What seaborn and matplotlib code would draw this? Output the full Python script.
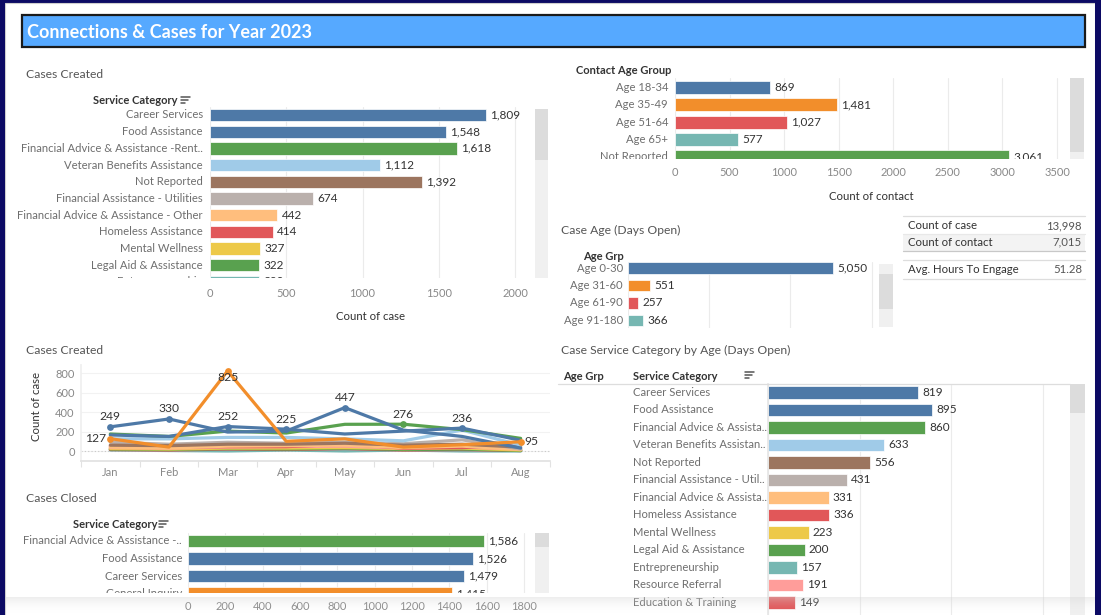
import numpy as np
import pandas as pd
import seaborn as sns
import matplotlib.pyplot as plt
from matplotlib.patches import Rectangle
from matplotlib.lines import Line2D
from matplotlib.transforms import Bbox, TransformedBbox, blended_transform_factory

W, H = 1101, 615

# tableau-ish colours
BLUE = "#4e79a7"
ORANGE = "#f28e2b"
RED = "#e15759"
TEAL = "#76b7b2"
GREEN = "#59a14f"
YELLOW = "#edc948"
LBLUE = "#a0cbe8"
BROWN = "#9c755f"
GREY = "#bab0ac"
LORANGE = "#ffbe7d"
PINK = "#ff9d9a"

# ---- data ----
created_cats = ["Career Services", "Food Assistance", "Financial Advice & Assistance -Rent..",
                "Veteran Benefits Assistance", "Not Reported", "Financial Assistance - Utilities",
                "Financial Advice & Assistance - Other", "Homeless Assistance", "Mental Wellness",
                "Legal Aid & Assistance", "Entrepreneurship"]
created_vals = [1809, 1548, 1618, 1112, 1392, 674, 442, 414, 327, 322, 320]
created_colors = [BLUE, BLUE, GREEN, LBLUE, BROWN, GREY, LORANGE, RED, YELLOW, GREEN, TEAL]

contact_groups = ["Age 18-34", "Age 35-49", "Age 51-64", "Age 65+", "Not Reported"]
contact_vals = [869, 1481, 1027, 577, 3061]
contact_colors = [BLUE, ORANGE, RED, TEAL, GREEN]

case_age_groups = ["Age 0-30", "Age 31-60", "Age 61-90", "Age 91-180"]
case_age_vals = [5050, 551, 257, 366]
case_age_colors = [BLUE, ORANGE, RED, TEAL]

kpi_names = ["Count of case", "Count of contact", "Avg. Hours To Engage"]
kpi_vals = ["13,998", "7,015", "51.28"]

months = ["Jan", "Feb", "Mar", "Apr", "May", "Jun", "Jul", "Aug"]
trend_career = [249, 330, 195, 205, 447, 215, 150, 30]
trend_food = [165, 150, 252, 225, 175, 205, 236, 110]
trend_fin_rent = [175, 150, 205, 185, 275, 276, 220, 130]
trend_veteran = [125, 125, 140, 140, 125, 105, 215, 60]
trend_general = [127, 40, 825, 100, 125, 40, 65, 95]
trend_not_reported = [60, 55, 70, 70, 80, 60, 70, 40]
trend_fin_util = [90, 70, 90, 80, 90, 75, 115, 20]
trend_fin_other = [40, 30, 50, 55, 60, 35, 50, 15]
trend_homeless = [50, 40, 45, 45, 70, 30, 35, 60]
trend_referral = [35, 30, 40, 45, 50, 30, 40, 20]
trend_mental = [25, 20, 30, 30, 35, 25, 30, 10]
trend_legal = [20, 15, 25, 20, 30, 15, 20, 5]
trend_education = [15, 10, 20, 15, 25, 10, 15, 5]
trend_entre = [10, 5, 0, 10, 0, 10, 0, 0]

closed_cats = ["Financial Advice & Assistance -..", "Food Assistance", "Career Services", "General Inquiry"]
closed_vals = [1586, 1526, 1479, 1415]
closed_colors = [GREEN, BLUE, BLUE, ORANGE]

byage_cats = ["Career Services", "Food Assistance", "Financial Advice & Assistance - Rent",
              "Veteran Benefits Assistance", "Not Reported", "Financial Assistance - Utilities",
              "Financial Advice & Assistance - Other", "Homeless Assistance", "Mental Wellness",
              "Legal Aid & Assistance", "Entrepreneurship", "Resource Referral", "Education & Training"]
byage_labels = ["Career Services", "Food Assistance", "Financial Advice & Assista..",
                "Veteran Benefits Assistan..", "Not Reported", "Financial Assistance - Util..",
                "Financial Advice & Assista..", "Homeless Assistance", "Mental Wellness",
                "Legal Aid & Assistance", "Entrepreneurship", "Resource Referral", "Education & Training"]
byage_vals = [819, 895, 860, 633, 556, 431, 331, 336, 223, 200, 157, 191, 149]
byage_colors = [BLUE, BLUE, GREEN, LBLUE, BROWN, GREY, LORANGE, RED, YELLOW, GREEN, TEAL, PINK, RED]

sns.set_theme(style="white")
plt.rcParams["font.family"] = ["Lato", "DejaVu Sans"]

fig = plt.figure(figsize=(W / 100, H / 100), dpi=100, facecolor="#0c0a64")


def add_ax(l, t, r, b):
    ax = fig.add_axes([l / W, 1 - b / H, (r - l) / W, (b - t) / H])
    ax.set_facecolor("white")
    for s in ax.spines.values():
        s.set_visible(False)
    return ax


def ftext(x, y, s, **kw):
    kw.setdefault("va", "center")
    return fig.text(x / W, 1 - y / H, s, **kw)


def frect(l, t, r, b, **kw):
    fig.add_artist(Rectangle((l / W, 1 - b / H), (r - l) / W, (b - t) / H,
                             transform=fig.transFigure, **kw))


def fline(x0, y0, x1, y1, **kw):
    fig.add_artist(Line2D([x0 / W, x1 / W], [1 - y0 / H, 1 - y1 / H],
                          transform=fig.transFigure, **kw))


def sort_icon(x, y):
    for i, ln in enumerate([9, 7, 4]):
        fline(x, y + i * 3, x + ln, y + i * 3, color="#555555", lw=1.1)


def scrollbar(l, t, r, b, thumb_t, thumb_b):
    frect(l, t, r, b, color="#f0f0f0", lw=0)
    frect(l, thumb_t, r, thumb_b, color="#dcdcdc", lw=0)


def bar_panel(box, cats, vals, colors, xmax, first_px, step_px, width, labels,
              label_px, label_ha="right", xticks=None, tick_pad=6):
    l, t, r, b = box
    ax = add_ax(l, t, r, b)
    df = pd.DataFrame({"cat": cats, "val": vals})
    sns.barplot(data=df, x="val", y="cat", hue="cat", order=cats, hue_order=cats,
                palette=dict(zip(cats, colors)), width=width, legend=False, ax=ax,
                orient="h", saturation=1, edgecolor="white", linewidth=0.5)
    ax.set_xlim(0, xmax)
    ax.set_ylim((b - first_px) / step_px, (t - first_px) / step_px)
    ax.grid(axis="x", color="#ebebeb", lw=0.8)
    ax.set_axisbelow(True)
    ax.set_xlabel("")
    ax.set_ylabel("")
    ax.tick_params(left=False, labelleft=False, bottom=False, length=0)
    if xticks is None:
        ax.tick_params(labelbottom=False)
    else:
        ax.set_xticks(xticks)
        ax.tick_params(labelsize=8, labelcolor="#888888", pad=tick_pad)
    clip = TransformedBbox(Bbox.from_extents(0, 1 - b / H, 1, 1 - t / H), fig.transFigure)
    for cont in ax.containers:
        for txt in ax.bar_label(cont, fmt="{:,.0f}", padding=3, fontsize=8.5, color="#333333"):
            txt.set_annotation_clip(False)
            txt.set_clip_on(True)
            txt.set_clip_box(clip)
    trans = blended_transform_factory(fig.transFigure, ax.transData)
    for i, lab in enumerate(labels):
        txt = ax.text(label_px / W, i, lab, transform=trans, ha=label_ha, va="center",
                      fontsize=8.1, color="#6e6e6e", clip_on=True)
        txt.set_clip_path(None)
        txt.set_clip_box(clip)
    return ax


# ---- frame ----
frect(5, 3, 1095, 640, facecolor="white", edgecolor="#cfcfcf", lw=0.8, zorder=-10)
frect(22, 15, 1085, 47, facecolor="#56a9ff", edgecolor="#1a1a1a", lw=1.6)
ftext(27, 32, "Connections & Cases for Year 2023", color="white", fontsize=13, fontweight="bold")

# ---- Cases Created (bars) ----
ftext(26, 75, "Cases Created", fontsize=8.7, color="#555555")
ftext(93, 101, "Service Category", fontsize=8, color="#333333", fontweight="bold")
sort_icon(181, 97)
bar_panel((210, 107, 530, 278), created_cats, created_vals, created_colors, 2098,
          115, 16.67, 0.74, created_cats, 203, xticks=[0, 500, 1000, 1500, 2000], tick_pad=7)
ftext(371, 316, "Count of case", ha="center", fontsize=8.2, color="#333333")
scrollbar(535, 109, 548, 278, 109, 160)

# ---- Contact Age Group ----
ftext(576, 71, "Contact Age Group", fontsize=8, color="#333333", fontweight="bold")
bar_panel((675, 78, 1065, 159), contact_groups, contact_vals, contact_colors, 3573,
          87.3, 17.4, 0.75, contact_groups, 668,
          xticks=[0, 500, 1000, 1500, 2000, 2500, 3000, 3500], tick_pad=6)
ftext(871, 197, "Count of contact", ha="center", fontsize=8.2, color="#333333")
scrollbar(1070, 78, 1084, 159, 78, 152)

# ---- Case Age (Days Open) ----
ftext(561, 230, "Case Age (Days Open)", fontsize=8.7, color="#555555")
ftext(583, 256, "Age Grp", fontsize=8, color="#333333", fontweight="bold")
bar_panel((628, 262, 876, 328), case_age_groups, case_age_vals, case_age_colors, 6108,
          268, 17.5, 0.68, case_age_groups, 623)
scrollbar(879, 264, 893, 327, 274, 309)

# ---- KPI table ----
frect(903, 234, 1085, 251, color="#f3f3f3", lw=0)
for yy, col in [(216, "#dddddd"), (234, "#e8e8e8"), (251, "#c8c8c8"), (260, "#dddddd"), (279, "#dddddd")]:
    fline(903, yy, 1085, yy, color=col, lw=0.9)
for name, val, yy in zip(kpi_names, kpi_vals, [225.5, 242, 270]):
    ftext(908, yy, name, fontsize=8.2, color="#333333")
    ftext(1082, yy, val, fontsize=8.2, color="#555555", ha="right")

# ---- Cases Created trend ----
ftext(26, 350, "Cases Created", fontsize=8.7, color="#555555")
trend_names = ["Entrepreneurship", "Education & Training", "Legal Aid & Assistance", "Mental Wellness",
               "Resource Referral", "Homeless Assistance", "Financial Advice & Assistance - Other",
               "Financial Assistance - Utilities", "Not Reported", "Veteran Benefits Assistance",
               "Financial Advice & Assistance - Rent", "Food Assistance", "Career Services", "General Inquiry"]
trend_series = [trend_entre, trend_education, trend_legal, trend_mental, trend_referral, trend_homeless,
                trend_fin_other, trend_fin_util, trend_not_reported, trend_veteran, trend_fin_rent,
                trend_food, trend_career, trend_general]
trend_colors = [TEAL, RED, GREEN, YELLOW, PINK, RED, LORANGE, GREY, BROWN, LBLUE, GREEN, BLUE, BLUE, ORANGE]
rows = []
for name, vals in zip(trend_names, trend_series):
    for m, v in enumerate(vals):
        rows.append({"series": name, "month": m, "cases": v})
trend_df = pd.DataFrame(rows)

axl = add_ax(81, 365, 550, 461)
axl.axhline(0, color="#c8c8c8", lw=0.8, ls=(0, (1, 2)))
sns.lineplot(data=trend_df, x="month", y="cases", hue="series", hue_order=trend_names,
             palette=dict(zip(trend_names, trend_colors)), linewidth=2.3, legend=False, ax=axl)
axl.set_xlim(-0.5, 7.5)
axl.set_ylim(-103, 886)
axl.set_yticks([0, 200, 400, 600, 800])
axl.set_xticks(range(len(months)), months)
axl.set_xticks(np.arange(-0.5, 8, 1), minor=True)
axl.grid(axis="y", color="#f2f2f2", lw=0.8)
axl.set_axisbelow(True)
axl.spines["bottom"].set_visible(True)
axl.spines["bottom"].set_color("#e2e2e2")
axl.spines["left"].set_visible(True)
axl.spines["left"].set_color("#efefef")
axl.tick_params(axis="both", which="major", length=0, labelsize=8, labelcolor="#888888")
axl.tick_params(axis="y", pad=4.5)
axl.tick_params(axis="x", pad=4)
axl.tick_params(axis="x", which="minor", bottom=True, length=4, color="#e2e2e2", width=0.8)
axl.set_xlabel("")
axl.set_ylabel("")
ftext(36, 406, "Count of case", rotation=90, ha="center", fontsize=8.2, color="#333333")

trend_lookup = dict(zip(trend_names, trend_series))
trend_marks = [("Career Services", 0, "above"), ("Career Services", 1, "above"),
               ("Food Assistance", 2, "above"), ("Food Assistance", 3, "above"),
               ("Career Services", 4, "above"), ("Financial Advice & Assistance - Rent", 5, "above"),
               ("Food Assistance", 6, "above"), ("General Inquiry", 0, "left"),
               ("General Inquiry", 2, "below"), ("General Inquiry", 7, "right")]
trend_col = dict(zip(trend_names, trend_colors))
offsets = {"above": ((0, 10), "center"), "left": ((-4, 0), "right"),
           "right": ((4, 0), "left"), "below": ((0, -7), "center")}
for name, m, where in trend_marks:
    v = trend_lookup[name][m]
    axl.scatter([m], [v], s=24, color=trend_col[name], zorder=5, linewidths=0)
    off, ha = offsets[where]
    axl.annotate(f"{v:,}", (m, v), xytext=off, textcoords="offset pixels", ha=ha, va="center",
                 fontsize=8.7, color="#333333", annotation_clip=False, zorder=6)

# ---- Cases Closed ----
ftext(26, 499, "Cases Closed", fontsize=8.7, color="#555555")
ftext(73, 525, "Service Category", fontsize=8, color="#333333", fontweight="bold")
sort_icon(159, 521)
bar_panel((188, 533, 533, 593), closed_cats, closed_vals, closed_colors, 1848,
          541, 17.5, 0.7, closed_cats, 182,
          xticks=[0, 200, 400, 600, 800, 1000, 1200, 1400, 1600, 1800], tick_pad=6)
scrollbar(535, 533, 549, 593, 533, 547)

# ---- Case Service Category by Age ----
ftext(561, 350, "Case Service Category by Age (Days Open)", fontsize=8.7, color="#555555")
ftext(563, 376, "Age Grp", fontsize=8, color="#333333", fontweight="bold")
ftext(633, 376, "Service Category", fontsize=8, color="#333333", fontweight="bold")
sort_icon(745, 372)
fline(558, 383.5, 1070, 383.5, color="#dddddd", lw=0.9)
axb = bar_panel((768, 384, 1070, 615), byage_cats, byage_vals, byage_colors, 1650,
                392.3, 17.5, 0.72, byage_labels, 633, label_ha="left")
axb.spines["left"].set_visible(True)
axb.spines["left"].set_color("#e6e6e6")
scrollbar(1070, 384, 1085, 615, 384, 413)

# soft shadow along the bottom edge of the screenshot
axf = fig.add_axes([0, 0, 1, 18 / H], zorder=20)
grad = np.zeros((18, 2, 4))
grad[..., :3] = 0.84
grad[..., 3] = (np.linspace(1, 0, 18) ** 2 * 0.4)[:, None]
axf.imshow(grad, aspect="auto", extent=(0, 1, 0, 1))
axf.set_axis_off()
frect(0, 0, 5, 615, color="#0c0a64", lw=0, zorder=30)
frect(1095, 0, 1101, 615, color="#0c0a64", lw=0, zorder=30)

fig.savefig("out.png", dpi=100, facecolor=fig.get_facecolor())
